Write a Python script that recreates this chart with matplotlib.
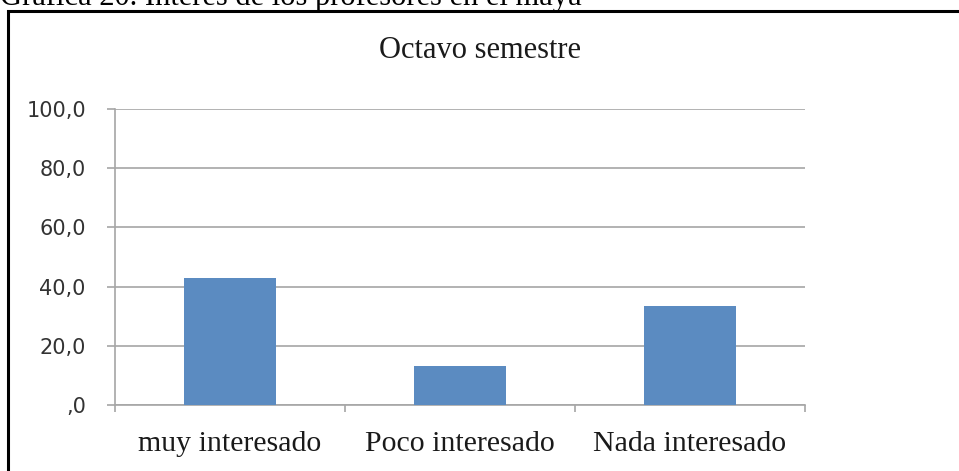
import matplotlib.pyplot as plt
from matplotlib.patches import Rectangle
from matplotlib.ticker import FixedLocator, NullFormatter

categories = ["muy interesado", "Poco interesado", "Nada interesado"]
values = [42.9, 13.3, 33.3]
y_ticks = [0, 20, 40, 60, 80, 100]
y_tick_labels = [",0", "20,0", "40,0", "60,0", "80,0", "100,0"]

W, H = 959, 471
fig = plt.figure(figsize=(W / 100, H / 100), dpi=100)

# caption above the framed chart (cut off by the top edge)
fig.text(0 / W, 1 - 5 / H, "Gráfica 20. Interés de los profesores en el maya",
         family="Liberation Serif", fontsize=22, va="baseline", ha="left")

# frame around the chart
fig.patches.append(Rectangle((8 / W, -0.1), 1.2, 1 - 11 / H + 0.1,
                             transform=fig.transFigure, fill=False,
                             edgecolor="black", linewidth=2.2))

ax = fig.add_axes([115 / W, 1 - 405 / H, 690 / W, (405 - 109) / H])
x = range(len(categories))
ax.bar(x, values, width=0.4, color="#5b8bc1", zorder=3)

ax.set_xlim(-0.5, 2.5)
ax.set_ylim(0, 100)
ax.set_yticks(y_ticks)
ax.set_yticklabels(y_tick_labels, family="DejaVu Sans", fontsize=15, color="#333333")
ax.yaxis.grid(True, color="#a6a6a6", linewidth=1.2, zorder=0)

ax.xaxis.set_major_locator(FixedLocator([-0.5, 0.5, 1.5, 2.5]))
ax.xaxis.set_major_formatter(NullFormatter())
ax.xaxis.set_minor_locator(FixedLocator(list(x)))
ax.set_xticklabels(categories, minor=True, family="Liberation Serif", fontsize=21.5,
                   color="#1a1a1a")
ax.tick_params(axis="x", which="minor", length=0, pad=19)
ax.tick_params(axis="x", which="major", length=5, color="#a6a6a6", width=1.2)
ax.tick_params(axis="y", length=6, color="#a6a6a6", width=1.2, pad=15)

for s in ("top", "right"):
    ax.spines[s].set_visible(False)
for s in ("left", "bottom"):
    ax.spines[s].set_color("#a6a6a6")
    ax.spines[s].set_linewidth(1.2)

fig.text(480 / W, 1 - 58 / H, "Octavo semestre", family="Liberation Serif",
         fontsize=22, ha="center", va="baseline", color="#1a1a1a")

fig.savefig("out.png", dpi=100)
plt.close(fig)
